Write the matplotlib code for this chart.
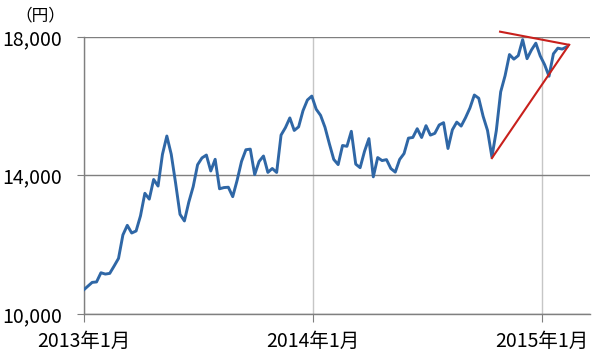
import matplotlib
matplotlib.use("Agg")
import matplotlib.pyplot as plt
import matplotlib.dates as mdates
import numpy as np
import pandas as pd

plt.rcParams['font.family'] = ['Noto Sans CJK JP', 'DejaVu Sans']

# weekly closes (yen), weeks starting Monday from 2012-12-31
start_week = '2012-12-31'
values_2013 = [10688, 10801, 10913, 10926, 11191, 11153, 11173, 11385, 11606,
               12283, 12560, 12338, 12397, 12833, 13485, 13316, 13884, 13694,
               14607, 15138, 14612, 13774, 12877, 12686, 13230, 13677, 14309,
               14506, 14589, 14129, 14466, 13615, 13650, 13660, 13388, 13860,
               14404, 14742, 14760, 14024, 14404, 14561, 14088, 14201, 14086,
               15165, 15381, 15661, 15299, 15403, 15870, 16178]
values_2014 = [16291, 15912, 15734, 15391, 14914, 14462, 14313, 14865, 14841,
               15274, 14327, 14224, 14696, 15063, 13960, 14516, 14429, 14457,
               14199, 14096, 14462, 14632, 15077, 15097, 15349, 15095, 15437,
               15164, 15215, 15457, 15523, 14778, 15318, 15539, 15425, 15668,
               15948, 16321, 16229, 15708, 15300, 14532, 15291, 16413, 16880,
               17490, 17357, 17459, 17920, 17371, 17621, 17818]
values_2015 = [17450, 17197, 16864, 17511, 17674, 17648, 17711]
closes = values_2013 + values_2014 + values_2015

# trend lines drawn on top (date, value)
upper_trend = [('2014-10-26', 18150), ('2015-02-13', 17770)]
lower_trend = [('2014-10-13', 14500), ('2015-02-13', 17770)]

x_ticks = ['2013-01-01', '2014-01-01', '2015-01-01']
x_labels = ['2013年1月', '2014年1月', '2015年1月']
y_ticks = [10000, 14000, 18000]

dates = pd.date_range(start_week, periods=len(closes), freq='7D')

fig = plt.figure(figsize=(6.0, 3.59), dpi=100)
ax = fig.add_axes([0.14, 0.1253, 0.843, 0.772])

ax.plot(dates, closes, color='#2f67a6', lw=2.1, solid_joinstyle='round', zorder=3)

for seg in (upper_trend, lower_trend):
    ax.plot(pd.to_datetime([p[0] for p in seg]), [p[1] for p in seg],
            color='#c8201c', lw=1.5, zorder=4, clip_on=False)

ax.set_xlim(pd.Timestamp('2013-01-01'), pd.Timestamp('2015-03-18'))
ax.set_ylim(10000, 18000)

ax.set_yticks(y_ticks)
ax.set_yticklabels([f'{v:,}' for v in y_ticks])
ax.set_xticks(pd.to_datetime(x_ticks))
ax.set_xticklabels(x_labels)

for s in ['top', 'right']:
    ax.spines[s].set_visible(False)
ax.spines['left'].set_color('#7f7f7f')
ax.spines['bottom'].set_color('#7f7f7f')
ax.spines['left'].set_linewidth(1.0)
ax.spines['bottom'].set_linewidth(1.0)

ax.grid(axis='y', color='#7f7f7f', lw=1.0)
ax.grid(axis='x', color='#c6c6c6', lw=1.0)
ax.set_axisbelow(True)

ax.tick_params(axis='x', length=6, color='#7f7f7f', labelsize=14, pad=6)
ax.tick_params(axis='y', length=5, color='#7f7f7f', labelsize=14, pad=11)

fig.text(0.025, 0.955, '（円）', fontsize=12, ha='left', va='center')

fig.savefig('out.png', dpi=100)
